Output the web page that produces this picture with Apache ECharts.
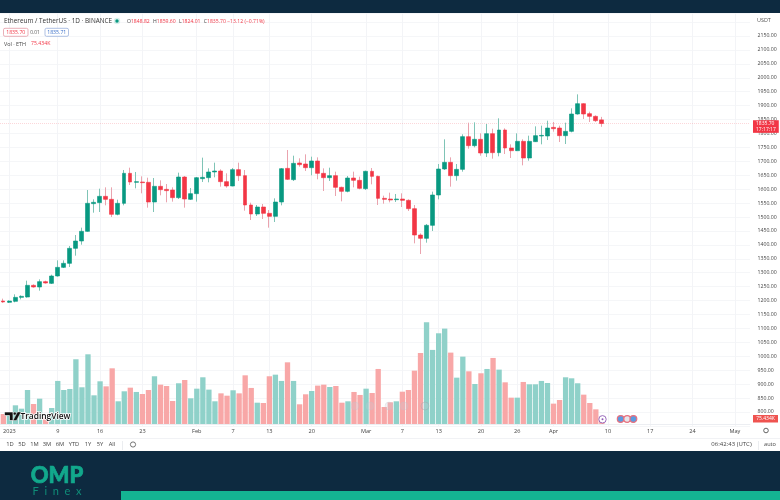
<!DOCTYPE html>
<html><head><meta charset="utf-8">
<style>html,body{margin:0;padding:0;background:#fff}#c{width:780px;height:500px}</style>
<script src="https://cdn.jsdelivr.net/npm/echarts@6/dist/echarts.min.js"></script>
</head><body><div id="c"></div>
<script>
const opens = [1198.5,
 1193.7,1197.3,1211.6,1212.8,1254.7,1248.7,1267.9,1261.9,1288.2,1319.3,1333.7,1387.6,1413.9,1448.6,1548,1551.6,1574.3,1563.5,1509.7,1549.2,1656.9,1624.6,1625.8,1624.6,1553.9,1610.2,1599.4,1597,1569.5,1643.7,1563.5,
 1583.9,1637.7,1641.3,1661.7,1665.3,1627,1611.4,1670.1,1648.5,1543.2,1510.9,1536,1513.3,1502.5,1553.9,1674.8,1634.2,1694,1690.4,1677.2,1701.2,1656.9,1641.3,1648.5,1606.6,1592.3,1640.1,1631.8,
 1601.8,1664.1,1646.1,1567.1,1564.7,1562.3,1564.7,1560,1530,1435.4,1423.5,1470.2,1579.1,1672.4,1696.4,1648.5,1671.2,1788.5,1756.2,1779,1729.9,1799.3,1731.1,1812.5,1747.8,1738.2,1771.8,1711.9,1770.6,1790.9,1790.9,
 1822,1819.6,1792.1,1807.7,1869.9,1907,1871.1,1861.5,1848.8];
const closes = [1195,
 1198.4,1211.6,1215.2,1254.7,1248.7,1267.9,1263.1,1288.2,1319.3,1333.7,1387.6,1413.9,1448.6,1549.2,1552.8,1574.3,1563.5,1509.7,1549.2,1656.9,1625.8,1627,1623.4,1553.9,1610.2,1598.2,1594.7,1569.5,1643.7,1564.7,1583.9,
 1641.3,1642.5,1661.7,1665.3,1627,1611.4,1670.1,1648.5,1543.2,1510.9,1536,1513.3,1502.5,1553.9,1673.6,1635.4,1692.8,1688,1677.2,1701.2,1656.9,1641.3,1648.5,1606.6,1592.3,1640.1,1631.8,1603,
 1664.1,1646.1,1567.1,1563.5,1561.1,1564.7,1560,1530,1435.4,1423.5,1470.2,1579.1,1672.4,1696.4,1648.5,1671.2,1788.6,1756.2,1779,1729.9,1799.3,1731.1,1812.5,1747.8,1738.2,1771.8,1711.9,1771.8,1792.1,1793.3,1819.6,
 1817.2,1792.1,1807.7,1869.9,1907,1869.9,1861.5,1846,1835.7];
const highs = [1207,
 1200.8,1222.4,1218.8,1271.5,1258.3,1276.2,1271.5,1293,1344.5,1344.5,1395.9,1435.4,1461.8,1597,1563.5,1601.8,1606.6,1606.6,1562.3,1668.9,1677.2,1661.7,1646.1,1641.3,1640.1,1631.8,1618.6,1606.6,1659.3,1647,1604.2,
 1643.7,1713.2,1674.9,1695.2,1671.3,1656.9,1676.1,1695.2,1668.9,1551.5,1543.2,1546.8,1525.2,1567.1,1676,1740.7,1720.3,1710.8,1725.1,1716.7,1714.3,1674.8,1677.2,1662.9,1609,1647.3,1662.9,1644.9,
 1666.5,1676,1648.5,1576.7,1587.5,1582.7,1585.1,1563.5,1543.2,1441.4,1475,1591.1,1690.4,1779,1714.3,1690.4,1797,1838.8,1840,1800.5,1834,1817.2,1854.4,1818.4,1761,1800.5,1779,1792.1,1825.6,1828,1846,
 1841.2,1828,1838.8,1890.3,1940.5,1908.2,1878.3,1865.1,1859.6];
const lows = [1192,
 1191.3,1193.7,1204.4,1210.4,1246.3,1235.6,1260.7,1259.5,1285.8,1316.9,1320.5,1361.2,1400.7,1447.4,1515.6,1518,1542,1500.1,1506.1,1542,1615,1603,1585.1,1533.6,1518,1577.9,1552.8,1555.2,1564.7,1533.6,1561.1,
 1555.2,1625.8,1624.6,1642.5,1609,1605.4,1610.2,1629.4,1522.8,1489.3,1503.7,1492.9,1461.8,1482.1,1542,1633,1629.4,1680.8,1665.3,1649.7,1635.4,1593.4,1629.4,1575.5,1556.3,1588.7,1606.6,1599.4,
 1597,1617.4,1543.2,1548,1552.7,1554,1536,1521.6,1405.5,1367.2,1407.9,1449.8,1563.5,1668.9,1609,1630.6,1662.9,1745.4,1750.2,1720.3,1715.5,1709.5,1717.9,1726.3,1711.9,1737,1685.6,1702.3,1769.4,1761,1776.5,
 1806.5,1769.4,1762.2,1804.1,1867.5,1852,1841.2,1841.2,1824];
const volumes = [137,
 137,256,210,466,274,347,90,219,590,466,480,887,503,955,393,585,516,763,311,448,498,439,411,466,654,539,521,315,558,603,
 352,484,640,471,311,420,388,462,420,667,494,292,288,654,676,590,845,590,270,407,452,526,539,507,521,292,311,439,398,
 484,425,754,233,297,311,443,466,731,973,1394,1015,1243,1307,978,635,923,722,548,695,754,905,745,571,361,361,576,544,544,590,562,
 279,329,640,626,558,402,288,201,75.434];
const tickDates = ['2023-01-01','2023-01-09','2023-01-16','2023-01-23','2023-02-01','2023-02-07','2023-02-13','2023-02-20','2023-03-01','2023-03-07','2023-03-13','2023-03-20','2023-03-26','2023-04-01','2023-04-10','2023-04-17','2023-04-24','2023-05-01'];
const tickLabels = ['2023','9','16','23','Feb','7','13','20','Mar','7','13','20','26','Apr','10','17','24','May'];
const lastPrice = 1835.70;
const rangeButtons = ['1D','5D','1M','3M','6M','YTD','1Y','5Y','All'];
const rangeX = [10,22,34.5,47,60,74,88,100,112];

const categories = [];
for (let d = new Date(Date.UTC(2022,11,31)), i = 0; i < 124; i++, d = new Date(d.getTime() + 864e5)) categories.push(d.toISOString().slice(0,10));

const FONT = '"Open Sans", sans-serif';
const UP = '#089981', DOWN = '#f23645';
const UPW = '#7fc4b6', DOWNW = '#eaa3ae';
const isUp = i => closes[i] >= opens[i];
const tickSet = new Set(tickDates);
const wickData = opens.map((o,i) => [o, closes[i], lows[i], highs[i]]);
const upBody = opens.map((o,i) => isUp(i) ? [o, closes[i], Math.min(o,closes[i]), Math.max(o,closes[i])] : '-');
const downBody = opens.map((o,i) => !isUp(i) ? [o, closes[i], Math.min(o,closes[i]), Math.max(o,closes[i])] : '-');
const txt = (x,y,text,o={}) => ({type:'text',x,y,silent:true,z:o.z||20,style:Object.assign({text,fill:'#444',font:`${o.size||6}px ${FONT}`,textVerticalAlign:'middle',textAlign:o.align||'left'},o.style||{},o.fill?{fill:o.fill}:{})});
const rect = (x,y,w,h,fill,o={}) => ({type:'rect',silent:true,z:o.z||15,shape:{x,y,width:w,height:h,r:o.r||0},style:{fill,stroke:o.stroke||null,lineWidth:o.lw||0,opacity:o.op==null?1:o.op}});
const circle = (cx,cy,r,fill,stroke,o={}) => ({type:'circle',silent:true,z:o.z||18,shape:{cx,cy,r},style:{fill,stroke,lineWidth:o.lw||0.8,opacity:o.op==null?1:o.op}});

const graphics = [
  rect(0,0,780,13,'#0d2a40'),
  rect(0,451,780,49,'#0d2a40'),
  rect(121,491,659,9,'#14b392',{z:16}),
  rect(0,438,780,0.8,'#eceef2'),
  rect(758,441,0.7,9,'#e3e5ea'),
  rect(122,441,0.7,9,'#e3e5ea'),
  txt(4,21,'Ethereum / TetherUS · 1D · BINANCE',{size:6.4,fill:'#333'}),
  circle(117,21,3.2,'rgba(8,153,129,.15)',null,{lw:0}),
  circle(117,21,1.7,UP,null,{lw:0}),
  {type:'text',x:127,y:21.5,silent:true,z:20,style:{rich:{a:{fill:'#444',font:`5.1px ${FONT}`},r:{fill:DOWN,font:`5.1px ${FONT}`}},text:'{a|O}{r|1848.82} {a|H}{r|1859.60} {a|L}{r|1824.01} {a|C}{r|1835.70 −13.12 (−0.71%)}',textVerticalAlign:'middle'}},
  rect(3.5,28.3,24.5,8,'#fff',{stroke:'#e39aa6',lw:0.8,r:1.5}),
  txt(15.75,32.5,'1835.70',{size:5.2,align:'center',fill:DOWN}),
  txt(35,32.5,'0.01',{size:4.8,align:'center',fill:'#555'}),
  rect(45,28.3,23.5,8,'#fff',{stroke:'#9bb0dc',lw:0.8,r:1.5}),
  txt(56.75,32.5,'1835.71',{size:5.2,align:'center',fill:'#3a6fc9'}),
  txt(4,44,'Vol · ETH',{size:5.4,fill:'#444'}),
  txt(31,44,'75.434K',{size:5.2,fill:DOWN}),
  txt(757,20,'USDT',{size:5.4,fill:'#555'}),
  rect(753,415,25,7.5,'#ef5350'),
  txt(765.5,419,'75.434K',{size:5,align:'center',fill:'#fff'}),
  {type:'polygon',silent:true,z:22,shape:{points:[[4.5,412],[13,412],[13,420.5],[9.5,420.5],[9.5,415.5],[4.5,415.5]]},style:{fill:'#111',stroke:'#fff',lineWidth:0.6}},
  circle(14.8,413.6,1.5,'#111','#fff',{z:22,lw:0.4}),
  {type:'polygon',silent:true,z:22,shape:{points:[[17.5,412],[13,420.5],[16.5,420.5],[21,412]]},style:{fill:'#111',stroke:'#fff',lineWidth:0.4}},
  txt(20.5,416.5,'TradingView',{size:8.6,style:{fill:'#111',font:`600 8.4px ${FONT}`,stroke:'#fff',lineWidth:1.6}}),
  circle(602.5,419.3,3.7,'#fff','#8e5bb5',{lw:0.9}),
  circle(602.5,419.3,1,'#8e5bb5',null,{lw:0,z:19}),
  circle(620.7,419,3.4,'#5b9be0','#e8707e',{lw:1.2}),
  circle(627.2,419,3.4,'#e8e4ea','#e8707e',{lw:1.2}),
  circle(633.4,419,3.4,'#5b9be0','#e8707e',{lw:1.2}),
  circle(355,406,4,'rgba(200,205,215,.25)','rgba(190,195,205,.3)'),
  circle(370,406,4,'rgba(200,205,215,.25)','rgba(190,195,205,.3)'),
  circle(389,406,4,'rgba(200,205,215,.25)','rgba(190,195,205,.3)'),
  circle(404,406,4,'rgba(200,205,215,.25)','rgba(190,195,205,.3)'),
  circle(425,406,4,'rgba(200,205,215,.25)','rgba(150,155,165,.4)'),
  circle(766,430.5,2.3,'#fff','#555',{lw:0.9}),
  circle(133,444.5,2.6,'#fff','#666',{lw:0.9}),
  txt(731.5,444.5,'06:42:43 (UTC)',{size:6,align:'center',fill:'#444'}),
  txt(770,444.5,'auto',{size:5.6,align:'center',fill:'#444'}),
  txt(57,475.5,'OMP',{align:'center',style:{font:`900 22px "Lato", sans-serif`,fill:'#12a88c',stroke:'#12a88c',lineWidth:0.7}}),
  txt(57,491.5,'F  i  n  e  x',{align:'center',style:{font:`400 11px "Lato", sans-serif`,fill:'#0f8d78'}})
].concat(rangeButtons.map((b,i) => txt(rangeX[i],444.5,b,{size:5.8,align:'center',fill:'#444'})));

const axisCommon = {type:'category',data:categories,boundaryGap:true};
const option = {
  animation:false,
  backgroundColor:'#fff',
  grid:[
    {left:-1.6,width:751.6,top:13,height:412.9},
    {left:-1.6,width:751.6,top:13,height:411}
  ],
  xAxis:[
    Object.assign({},axisCommon,{gridIndex:0,axisLine:{show:false},axisTick:{show:false},axisLabel:{show:false},
      splitLine:{show:true,alignWithLabel:true,interval:(i,v)=>tickSet.has(v),lineStyle:{color:'#f3f4f7',width:1}}}),
    Object.assign({},axisCommon,{gridIndex:1,axisLine:{show:true,lineStyle:{color:'#eceef2',width:1}},axisTick:{show:false},splitLine:{show:false},
      axisLabel:{show:true,margin:4,color:'#444',fontSize:5.6,fontFamily:FONT,interval:(i,v)=>tickSet.has(v),formatter:v=>tickLabels[tickDates.indexOf(v)]}})
  ],
  yAxis:[
    {type:'value',gridIndex:0,position:'right',min:750,max:2232.6,interval:50,axisLine:{show:false},axisTick:{show:false},
      axisLabel:{margin:7.5,color:'#444',fontSize:5.2,fontFamily:FONT,formatter:v=>(v<800||v>2150)?'':v.toFixed(2)},
      splitLine:{lineStyle:{color:'#f5f6f8',width:1}}},
    {type:'value',gridIndex:1,min:0,max:5631,axisLine:{show:false},axisTick:{show:false},axisLabel:{show:false},splitLine:{show:false}}
  ],
  series:[
    {type:'bar',name:'Volume',xAxisIndex:1,yAxisIndex:1,data:volumes,barWidth:'88%',z:1,silent:true,
      itemStyle:{color:p=>isUp(p.dataIndex)?'#8fd1c9':'#f8a7a7'}},
    {type:'candlestick',name:'Wick',xAxisIndex:0,yAxisIndex:0,data:wickData,barWidth:1,z:3,silent:true,
      itemStyle:{color:UPW,color0:DOWNW,borderColor:UPW,borderColor0:DOWNW,borderWidth:1}},
    {type:'candlestick',name:'Up',xAxisIndex:0,yAxisIndex:0,data:upBody,barWidth:4.4,z:4,silent:true,
      itemStyle:{color:UP,color0:DOWN,borderColor:UP,borderColor0:DOWN,borderWidth:0.6}},
    {type:'candlestick',name:'Down',xAxisIndex:0,yAxisIndex:0,data:downBody,barWidth:4.4,z:4,silent:true,
      itemStyle:{color:UP,color0:DOWN,borderColor:UP,borderColor0:DOWN,borderWidth:0.6},
      markLine:{silent:true,symbol:'none',animation:false,z:2,
        lineStyle:{color:'rgba(242,54,69,.2)',type:'dotted',width:1},
        label:{show:true,position:'end',offset:[-2,3],formatter:'1835.70\n17:17:17',color:'#fff',fontSize:5,fontFamily:FONT,lineHeight:5.8,backgroundColor:DOWN,padding:[0.5,3,0.5,3],align:'left'},
        data:[{yAxis:lastPrice}]}}
  ],
  graphic:graphics
};
echarts.init(document.getElementById('c'),null,{renderer:'canvas'}).setOption(option);
</script></body></html>
